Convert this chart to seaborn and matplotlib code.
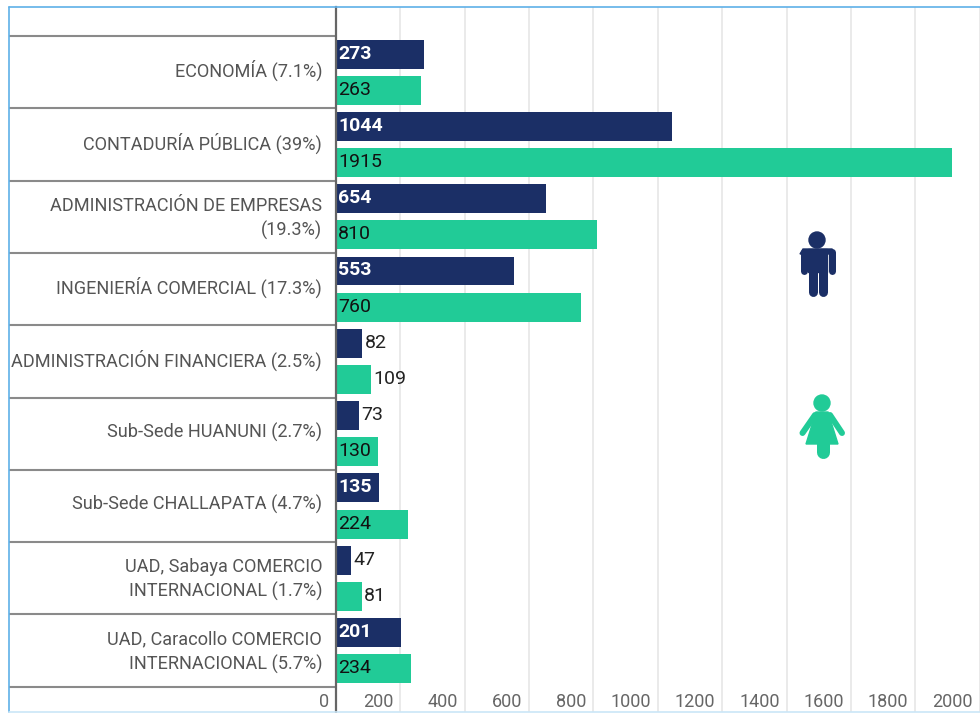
import matplotlib
matplotlib.use("Agg")
import matplotlib.pyplot as plt
import matplotlib.transforms as mtrans
from matplotlib.patches import Circle, Polygon, Rectangle
from matplotlib.lines import Line2D
import numpy as np
import pandas as pd
import seaborn as sns

carreras = [
    "ECONOMÍA (7.1%)",
    "CONTADURÍA PÚBLICA (39%)",
    "ADMINISTRACIÓN DE EMPRESAS\n(19.3%)",
    "INGENIERÍA COMERCIAL (17.3%)",
    "ADMINISTRACIÓN FINANCIERA (2.5%)",
    "Sub-Sede HUANUNI (2.7%)",
    "Sub-Sede CHALLAPATA (4.7%)",
    "UAD, Sabaya COMERCIO\nINTERNACIONAL (1.7%)",
    "UAD, Caracollo COMERCIO\nINTERNACIONAL (5.7%)",
]
hombres = [273, 1044, 654, 553, 82, 73, 135, 47, 201]
mujeres = [263, 1915, 810, 760, 109, 130, 224, 81, 234]
x_ticks = [0, 200, 400, 600, 800, 1000, 1200, 1400, 1600, 1800, 2000]

AZUL = "#1b2f66"
VERDE = "#21cb97"
W, H = 980, 713

sns.set_theme(style="white")
plt.rcParams["font.family"] = ["Roboto", "DejaVu Sans"]

df = pd.DataFrame({
    "carrera": carreras * 2,
    "valor": hombres + mujeres,
    "sexo": ["H"] * len(carreras) + ["M"] * len(carreras),
})

fig = plt.figure(figsize=(W / 100, H / 100), dpi=100)
ax = fig.add_axes([336 / W, 1 / H, 644 / W, 705 / H])
sns.barplot(data=df, y="carrera", x="valor", hue="sexo", orient="h", width=1, gap=0.2,
            palette={"H": AZUL, "M": VERDE}, legend=False, saturation=1, linewidth=0, ax=ax)

ax.set_xlim(0, 2001)
ax.set_ylim((712 - 72.2) / 72.3, (7 - 72.2) / 72.3)
ax.set_xlabel("")
ax.set_ylabel("")
ax.set_axisbelow(True)
ax.xaxis.grid(True, color="#e4e4e4", lw=1.1)
ax.yaxis.grid(False)
sns.despine(ax=ax, top=True, right=True, bottom=True, left=False)
ax.spines["left"].set_color("#666666")
ax.spines["left"].set_linewidth(1.6)

# labels sit to the left of their gridline, like the original
ax.set_xticks(x_ticks)
ax.set_xticklabels([str(t) for t in x_ticks])
ax.tick_params(axis="x", length=0, pad=-14, labelsize=13, labelcolor="#666666")
shift = mtrans.ScaledTranslation(-7 / 100, 0, fig.dpi_scale_trans)
for lab in ax.get_xticklabels():
    lab.set_ha("right")
    lab.set_transform(lab.get_transform() + shift)

ax.tick_params(axis="y", which="major", length=0, pad=10, labelsize=13.1, labelcolor="#555555")
up = mtrans.ScaledTranslation(0, 3.5 / 100, fig.dpi_scale_trans)
for lab in ax.get_yticklabels():
    lab.set_multialignment("right")
    lab.set_linespacing(1.4)
    lab.set_transform(lab.get_transform() + up)

# band separators run across the label column
ax.set_yticks(np.arange(len(carreras) + 1) - 0.5, minor=True)
ax.tick_params(axis="y", which="minor", left=True, length=327 * 0.72, width=1.5, color="#8a8a8a")

for cont, vals, col in zip(ax.containers, [hombres, mujeres], ["white", "#111111"]):
    for bar, v in zip(cont, vals):
        y = bar.get_y() + bar.get_height() / 2
        if v >= 130:
            ax.annotate(str(v), (0, y), xytext=(1.5, 0.4), textcoords="offset points", va="center",
                        color=col, fontsize=14, fontweight="bold" if col == "white" else "normal")
        else:
            ax.annotate(str(v), (v, y), xytext=(1.5, 0.4), textcoords="offset points", va="center",
                        color="#222222", fontsize=14)


def px(x, y):
    return x / W, 1 - y / H


def trazo(p0, p1, color, ancho):
    # round-ended stroke between two pixel positions, ancho in pixels
    fig.add_artist(Line2D([p0[0] / W, p1[0] / W], [1 - p0[1] / H, 1 - p1[1] / H], transform=fig.transFigure,
                          color=color, lw=ancho * 0.72, solid_capstyle="round"))


tf = fig.transFigure

# man icon
fig.add_artist(Circle((817, H - 240), 8, transform=None, color=AZUL))
fig.add_artist(Polygon([px(803, 249), px(832, 249), px(835, 254), px(800, 254)], closed=True, transform=tf, color=AZUL))
fig.add_artist(Rectangle(px(808, 272), 19 / W, 23 / H, transform=tf, color=AZUL))
trazo((812.5, 270), (812.5, 292), AZUL, 9)
trazo((822.5, 270), (822.5, 292), AZUL, 9)
trazo((803.5, 252), (803.5, 271), AZUL, 7)
trazo((831.5, 252), (831.5, 271), AZUL, 7)

# woman icon
fig.add_artist(Circle((822, H - 403), 8, transform=None, color=VERDE))
fig.add_artist(Polygon([px(816, 412), px(828, 412), px(838, 444), px(806, 444)], closed=True, transform=tf, color=VERDE))
trazo((822.5, 444), (822.5, 452), VERDE, 13)
trazo((815, 415), (802.5, 433), VERDE, 6)
trazo((830, 415), (842, 433), VERDE, 6)

# frame: top and left in blue, bottom paler, no right side
fig.add_artist(Line2D([9 / W, 1], [1 - 7 / H] * 2, transform=tf, color="#5fb0e8", lw=1.2))
fig.add_artist(Line2D([9 / W] * 2, [1 - 7 / H, 1 - 712 / H], transform=tf, color="#5fb0e8", lw=1.2))
fig.add_artist(Line2D([9 / W, 1], [1 - 712 / H] * 2, transform=tf, color="#cbe6f7", lw=1.2))

fig.savefig("out.png", dpi=100)
